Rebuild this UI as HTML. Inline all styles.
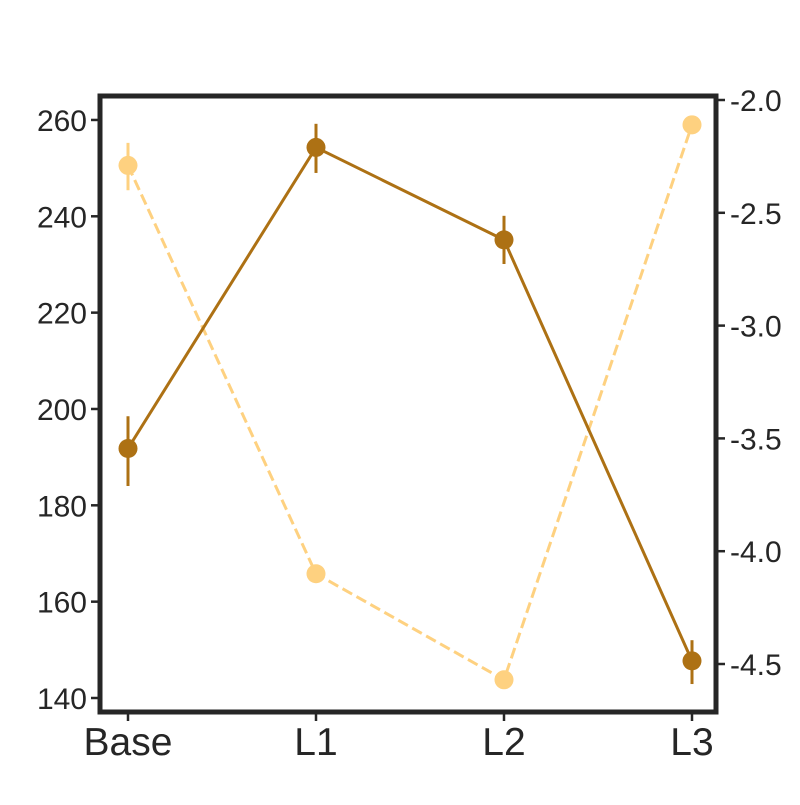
<!DOCTYPE html>
<html><head><meta charset="utf-8">
<style>
html,body{margin:0;padding:0;background:#fff;}
svg text{font-family:"Liberation Sans",Arial,sans-serif;fill:#262626;}
</style></head>
<body>
<svg id="chart" width="800" height="800" viewBox="0 0 800 800"></svg>
<script>
const categories = ["Base","L1","L2","L3"];
const leftValues = [191.8, 254.3, 235.1, 147.7];
const leftErrLow = [184.0, 249.0, 230.1, 142.9];
const leftErrHigh = [198.5, 259.2, 240.1, 152.0];
const rightValues = [-2.29, -4.10, -4.57, -2.11];
const rightErrLow = [-2.40, -4.14, -4.59, -2.13];
const rightErrHigh = [-2.19, -4.06, -4.55, -2.09];
const leftTicks = [140,160,180,200,220,240,260];
const rightTicks = [-2.0,-2.5,-3.0,-3.5,-4.0,-4.5];

const NS="http://www.w3.org/2000/svg";
const svg=document.getElementById('chart');
const L=100,R=716,T=96,B=712;
function xS(i){return 128+i*188;}
function yL(v){return 698-(v-140)*4.817;}
function yR(v){return 100+(-2.0-v)*225.6;}
function mk(tag,attrs,parent){const e=document.createElementNS(NS,tag);for(const k in attrs)e.setAttribute(k,attrs[k]);(parent||svg).appendChild(e);return e;}

const dark="#ad7114", light="#fed180";

const lg=mk('g',{});


let d='';
rightValues.forEach((v,i)=>{d+=(i?'L':'M')+xS(i)+','+yR(v);});
const lp=mk('path',{d:d,fill:'none',stroke:light,'stroke-width':3,'stroke-dasharray':'11,5'},lg);


rightValues.forEach((v,i)=>{
  const eb=mk('line',{x1:xS(i),x2:xS(i),y1:yR(rightErrLow[i]),y2:yR(rightErrHigh[i]),stroke:light,'stroke-width':3},lg);
  
  
  const c=mk('circle',{cx:xS(i),cy:yR(v),r:9.5,fill:light},lg);
  
  
});

const dg=mk('g',{});


d='';
leftValues.forEach((v,i)=>{d+=(i?'L':'M')+xS(i)+','+yL(v);});
const dp=mk('path',{d:d,fill:'none',stroke:dark,'stroke-width':3},dg);


leftValues.forEach((v,i)=>{
  const eb=mk('line',{x1:xS(i),x2:xS(i),y1:yL(leftErrLow[i]),y2:yL(leftErrHigh[i]),stroke:dark,'stroke-width':3},dg);
  
  
  const c=mk('circle',{cx:xS(i),cy:yL(v),r:9.5,fill:dark},dg);
  
  
});

const fr=mk('rect',{x:L,y:T,width:R-L,height:B-T,fill:'none',stroke:'#262626','stroke-width':5});



leftTicks.forEach(v=>{
  const y=yL(v);
  const t=mk('line',{x1:L-9,x2:L-2,y1:y,y2:y,stroke:'#262626','stroke-width':2.5});
  
  
  const tx=mk('text',{x:L-13,y:y+11,'text-anchor':'end','font-size':30});
  tx.textContent=v;
  
  
});
rightTicks.forEach(v=>{
  const y=yR(v);
  const t=mk('line',{x1:R+2,x2:R+9,y1:y,y2:y,stroke:'#262626','stroke-width':2.5});
  
  
  const tx=mk('text',{x:R+14,y:y+11,'text-anchor':'start','font-size':30});
  tx.textContent=v.toFixed(1);
  
  
});
categories.forEach((c,i)=>{
  const x=xS(i);
  const t=mk('line',{x1:x,x2:x,y1:B+2,y2:B+9,stroke:'#262626','stroke-width':2.5});
  
  
  const tx=mk('text',{x:x,y:B+43,'text-anchor':'middle','font-size':39});
  tx.textContent=c;
  
  
});
</script>
</body></html>
